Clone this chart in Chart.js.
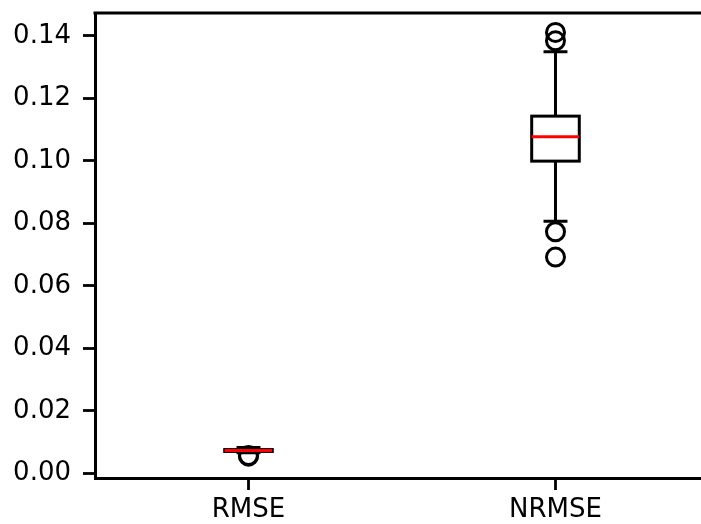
<!DOCTYPE html>
<html>
<head>
<meta charset="utf-8">
<script src="https://cdn.jsdelivr.net/npm/chart.js@4"></script>
<style>
  html, body { margin: 0; padding: 0; background: #fff; overflow: hidden; }
</style>
</head>
<body>
<canvas id="box" width="701" height="524"></canvas>
<script>
const categories = ['RMSE', 'NRMSE'];
const q1 = [0.0070, 0.0999];
const medians = [0.0073, 0.1077];
const q3 = [0.0076, 0.1143];
const whiskerLow = [0.0066, 0.0807];
const whiskerHigh = [0.0083, 0.1349];
const outliers = [
  [0.0057, 0.0055],
  [0.1411, 0.1384, 0.0773, 0.0692]
];
const yTicks = [0, 0.02, 0.04, 0.06, 0.08, 0.10, 0.12, 0.14];

const boxWidth = 0.155;   // in x units (positions are 1, 2)
const capWidth = 0.078;
const font = { family: 'DejaVu Sans', size: 26 };

// outliers go to the scatter dataset
const flierPoints = [];
outliers.forEach((list, i) => list.forEach(v => flierPoints.push({ x: i + 1, y: v })));

// box, whiskers, caps, median + top frame line
const boxPlugin = {
  id: 'boxes',
  afterDatasetsDraw(chart) {
    const { ctx, chartArea, scales: { x, y } } = chart;
    ctx.save();
    ctx.strokeStyle = '#000';
    ctx.lineWidth = 3;
    ctx.lineCap = 'butt';
    categories.forEach((c, i) => {
      const cx = x.getPixelForValue(i + 1);
      const bl = x.getPixelForValue(i + 1 - boxWidth / 2);
      const br = x.getPixelForValue(i + 1 + boxWidth / 2);
      const cl = x.getPixelForValue(i + 1 - capWidth / 2);
      const cr = x.getPixelForValue(i + 1 + capWidth / 2);
      const yq1 = y.getPixelForValue(q1[i]);
      const yq3 = y.getPixelForValue(q3[i]);
      const ylo = y.getPixelForValue(whiskerLow[i]);
      const yhi = y.getPixelForValue(whiskerHigh[i]);
      const ymed = y.getPixelForValue(medians[i]);

      ctx.beginPath();
      // whiskers
      ctx.moveTo(cx, yq1); ctx.lineTo(cx, ylo);
      ctx.moveTo(cx, yq3); ctx.lineTo(cx, yhi);
      // caps
      ctx.moveTo(cl, ylo); ctx.lineTo(cr, ylo);
      ctx.moveTo(cl, yhi); ctx.lineTo(cr, yhi);
      ctx.stroke();
      // box
      ctx.strokeRect(bl, yq3, br - bl, yq1 - yq3);
      // median
      ctx.beginPath();
      ctx.strokeStyle = '#ff0000';
      ctx.moveTo(bl, ymed); ctx.lineTo(br, ymed);
      ctx.stroke();
      ctx.strokeStyle = '#000';
    });
    // top spine (right one is cut off in the original)
    ctx.lineWidth = 3;
    ctx.beginPath();
    ctx.moveTo(chartArea.left - 1.5, chartArea.top);
    ctx.lineTo(chart.width, chartArea.top);
    ctx.stroke();
    ctx.restore();
  }
};

new Chart(document.getElementById('box'), {
  type: 'scatter',
  data: {
    datasets: [{
      data: flierPoints,
      pointStyle: 'circle',
      pointRadius: 9,
      pointHoverRadius: 9,
      backgroundColor: 'rgba(0,0,0,0)',
      borderColor: '#000',
      borderWidth: 3
    }]
  },
  options: {
    responsive: false,
    animation: false,
    layout: { autoPadding: false, padding: { top: 13, right: 0, left: 0, bottom: 0 } },
    plugins: { legend: { display: false }, tooltip: { enabled: false } },
    scales: {
      x: {
        type: 'linear',
        min: 0.5,
        max: 2.474,
        afterBuildTicks: s => { s.ticks = categories.map((c, i) => ({ value: i + 1 })); },
        afterFit: s => { s.height = 46; s.paddingLeft = 0; s.paddingRight = 0; },
        ticks: {
          callback: v => categories[v - 1],
          font: font,
          color: '#000',
          padding: 5,
          maxRotation: 0
        },
        grid: { drawOnChartArea: false, tickLength: 12, tickWidth: 2.8, tickColor: '#000' },
        border: { display: true, color: '#000', width: 3 }
      },
      y: {
        min: -0.0015,
        max: 0.1473,
        afterBuildTicks: s => { s.ticks = yTicks.map(v => ({ value: v })); },
        afterFit: s => { s.width = 95; s.paddingTop = 0; s.paddingBottom = 0; },
        ticks: {
          callback: v => v.toFixed(2),
          font: font,
          color: '#000',
          padding: 12
        },
        grid: { drawOnChartArea: false, tickLength: 12, tickWidth: 2.8, tickColor: '#000' },
        border: { display: true, color: '#000', width: 3 }
      }
    }
  },
  plugins: [boxPlugin]
});
</script>
</body>
</html>
